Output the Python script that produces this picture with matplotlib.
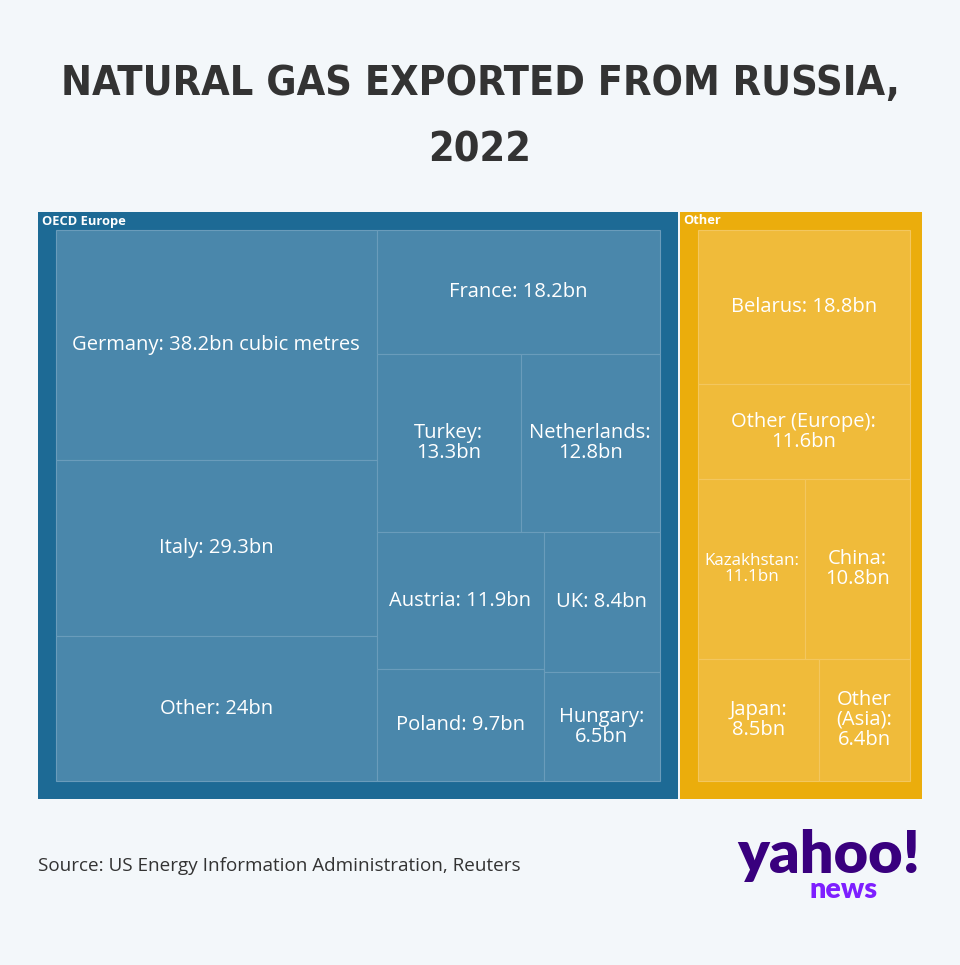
import matplotlib
matplotlib.use("Agg")
import matplotlib.pyplot as plt
from matplotlib.patches import Rectangle
from matplotlib import font_manager as fm
import numpy as np

# ---------------- data ----------------
groups = ["OECD Europe", "Other"]
oecd_names = ["Germany", "Italy", "Other", "France", "Turkey", "Netherlands",
              "Austria", "Poland", "UK", "Hungary"]
oecd_values = [38.2, 29.3, 24.0, 18.2, 13.3, 12.8, 11.9, 9.7, 8.4, 6.5]
oecd_labels = ["Germany: 38.2bn cubic metres", "Italy: 29.3bn", "Other: 24bn",
               "France: 18.2bn", "Turkey:\n13.3bn", "Netherlands:\n12.8bn",
               "Austria: 11.9bn", "Poland: 9.7bn", "UK: 8.4bn", "Hungary:\n6.5bn"]
other_names = ["Belarus", "Other (Europe)", "Kazakhstan", "China", "Japan", "Other (Asia)"]
other_values = [18.8, 11.6, 11.1, 10.8, 8.5, 6.4]
other_labels = ["Belarus: 18.8bn", "Other (Europe):\n11.6bn", "Kazakhstan:\n11.1bn",
                "China:\n10.8bn", "Japan:\n8.5bn", "Other\n(Asia):\n6.4bn"]

title_lines = ["NATURAL GAS EXPORTED FROM RUSSIA,", "2022"]
source = "Source: US Energy Information Administration, Reuters"

# ---------------- style ----------------
BG = "#f3f7fa"
group_colors = ["#1d6a95", "#ebad0c"]
leaf_colors = ["#4a87ab", "#f0bb3a"]
edge_colors = ["#6a9cbb", "#f3c75f"]
TXT = "#333333"

# pick a condensed bold face if available
title_fp = fm.FontProperties(family="DejaVu Sans", weight="bold", stretch="condensed")
try:
    path = fm.findfont(title_fp, fallback_to_default=True)
except Exception:
    path = ""
if "Condensed" not in path:
    title_fp = fm.FontProperties(family="Roboto", weight="bold")


def binary_treemap(values, x0, y0, x1, y1):
    """d3.treemapBinary style layout."""
    n = len(values)
    sums = np.concatenate([[0.0], np.cumsum(values)])
    rects = [None] * n

    def part(i, j, value, x0, y0, x1, y1):
        if i >= j - 1:
            rects[i] = (x0, y0, x1, y1)
            return
        off = sums[i]
        target = value / 2 + off
        k, hi = i + 1, j - 1
        while k < hi:
            mid = (k + hi) // 2
            if sums[mid] < target:
                k = mid + 1
            else:
                hi = mid
        if (target - sums[k - 1]) < (sums[k] - target) and i + 1 < k:
            k -= 1
        vl = sums[k] - off
        vr = value - vl
        if (x1 - x0) > (y1 - y0):
            xk = (x0 * vr + x1 * vl) / value
            part(i, k, vl, x0, y0, xk, y1)
            part(k, j, vr, xk, y0, x1, y1)
        else:
            yk = (y0 * vr + y1 * vl) / value
            part(i, k, vl, x0, y0, x1, yk)
            part(k, j, vr, x0, yk, x1, y1)

    part(0, n, sums[-1], x0, y0, x1, y1)
    return rects


fig = plt.figure(figsize=(9.6, 9.65), dpi=100, facecolor=BG)
ax = fig.add_axes([0, 0, 1, 1])
ax.set_xlim(0, 960)
ax.set_ylim(965, 0)
ax.axis("off")
ax.set_facecolor(BG)
renderer = fig.canvas.get_renderer()


def fit_text(t, width):
    bb = t.get_window_extent(renderer)
    if bb.width > 0:
        t.set_fontsize(t.get_fontsize() * width / bb.width)


# title
t1 = ax.text(480, 84, title_lines[0], ha="center", va="center",
             fontproperties=title_fp, color=TXT)
t1.set_fontsize(48)
fit_text(t1, 838)
t2 = ax.text(480, 150, title_lines[1], ha="center", va="center",
             fontproperties=title_fp, color=TXT)
t2.set_fontsize(t1.get_fontsize())

# treemap (layout area runs slightly past the visible right edge, clipped at 921.5)
clip = Rectangle((0, 0), 921.5, 965, transform=ax.transData)
group_values = [sum(oecd_values), sum(other_values)]
children = [(oecd_values, oecd_labels), (other_values, other_labels)]
PAD = 18
grects = binary_treemap(group_values, 37, 211, 929, 800)
for gi, (gx0, gy0, gx1, gy1) in enumerate(grects):
    gx0 += 1; gy0 += 1; gx1 -= 1; gy1 -= 1
    gp = ax.add_patch(Rectangle((gx0, gy0), gx1 - gx0, gy1 - gy0, facecolor=group_colors[gi],
                                edgecolor="none", zorder=1))
    gp.set_clip_path(clip)
    ax.text(gx0 + 4, gy0 + 9, groups[gi], ha="left", va="center", fontsize=9.3,
            fontweight="bold", color="white", family="Open Sans", zorder=4)
    vals, labs = children[gi]
    lrects = binary_treemap(vals, gx0 + PAD, gy0 + PAD, gx1 - PAD, gy1 - PAD)
    for (x0, y0, x1, y1), lab in zip(lrects, labs):
        ax.add_patch(Rectangle((x0, y0), x1 - x0, y1 - y0, facecolor=leaf_colors[gi],
                               edgecolor=edge_colors[gi], linewidth=0.8, zorder=2))
        t = ax.text((x0 + x1) / 2, (y0 + y1) / 2, lab, ha="center", va="center",
                    fontsize=14.5, color="white", family="Open Sans", linespacing=1.0,
                    zorder=4)
        bb = t.get_window_extent(renderer)
        if bb.width > (x1 - x0) - 8:
            t.set_fontsize(14.5 * ((x1 - x0) - 12) / bb.width)

# source
ts = ax.text(38, 866, source, ha="left", va="center", fontsize=13, color=TXT,
             family="Open Sans")
fit_text(ts, 480)

# logo
ty = ax.text(829, 855, "yahoo!", ha="center", va="center", fontsize=44,
             fontweight="heavy", color="#39007e", family="Lato")
fit_text(ty, 183)
tn = ax.text(844, 890, "news", ha="center", va="center", fontsize=22,
             fontweight="heavy", color="#7e1fff", family="Lato")
fit_text(tn, 68)

fig.savefig("out.png", dpi=100, facecolor=BG)
